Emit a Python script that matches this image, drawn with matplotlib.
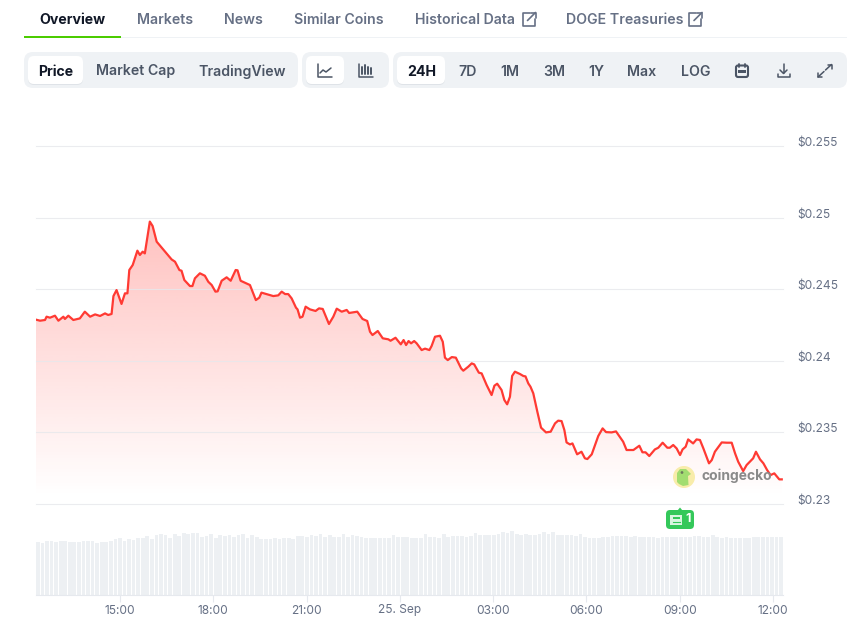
#!/usr/bin/env python3
# -*- coding: utf-8 -*-
import numpy as np
import matplotlib
matplotlib.use('Agg')
import matplotlib.pyplot as plt
from matplotlib.patches import FancyBboxPatch, Circle, Polygon, Rectangle
from matplotlib.transforms import ScaledTranslation

plt.rcParams['font.family'] = ['Inter', 'DejaVu Sans']

# hours since 00:00 on 24 Sep
times = [
    12.27, 12.43, 12.59, 12.64, 12.75, 12.91, 13.02, 13.18, 13.23, 13.34, 13.50, 13.71, 13.87, 14.04, 14.20, 14.36,
    14.52, 14.62, 14.73, 14.79, 14.89, 15.05, 15.16, 15.24, 15.30, 15.41, 15.56, 15.64, 15.73, 15.80, 15.96, 16.05,
    16.18, 16.39, 16.66, 16.77, 16.91, 16.98, 17.07, 17.25, 17.33, 17.41, 17.57, 17.73, 17.84, 17.95, 18.07, 18.14,
    18.27, 18.43, 18.56, 18.72, 18.78, 18.88, 19.18, 19.37, 19.48, 19.55, 19.82, 19.93, 20.09, 20.20, 20.31, 20.41,
    20.52, 20.66, 20.71, 20.79, 20.87, 20.97, 21.11, 21.29, 21.40, 21.52, 21.72, 21.86, 21.97, 22.13, 22.29, 22.37,
    22.63, 22.80, 22.95, 23.04, 23.12, 23.29, 23.45, 23.63, 23.70, 23.86, 24.03, 24.12, 24.20, 24.28, 24.36, 24.46,
    24.54, 24.70, 24.81, 24.95, 25.02, 25.13, 25.29, 25.38, 25.45, 25.54, 25.67, 25.80, 25.97, 26.04, 26.20, 26.31,
    26.39, 26.54, 26.63, 26.79, 26.95, 27.04, 27.13, 27.27, 27.36, 27.45, 27.54, 27.61, 27.70, 27.86, 27.97, 28.04,
    28.13, 28.20, 28.29, 28.42, 28.54, 28.70, 28.85, 28.99, 29.09, 29.20, 29.29, 29.36, 29.47, 29.55, 29.70, 29.84,
    29.95, 30.03, 30.17, 30.38, 30.52, 30.63, 30.81, 30.95, 31.18, 31.29, 31.51, 31.70, 31.80, 31.90, 32.02, 32.20,
    32.31, 32.45, 32.60, 32.68, 32.79, 32.90, 33.01, 33.09, 33.19, 33.27, 33.43, 33.54, 33.65, 33.76, 33.94, 34.03,
    34.13, 34.35, 34.51, 34.67, 34.78, 34.88, 35.04, 35.15, 35.36, 35.45, 35.58, 35.69, 35.81, 35.92, 36.04, 36.20,
    36.28,
]
prices = [
    .24289, .24280, .24285, .24308, .24301, .24315, .24280, .24308, .24292, .24315, .24285, .24296, .24343, .24308, .24324, .24313,
    .24331, .24320, .24327, .24452, .24494, .24397, .24471, .24471, .24634, .24669, .24769, .24739, .24762, .24750, .24972, .24941,
    .24832, .24778, .24708, .24692, .24634, .24629, .24564, .24522, .24522, .24576, .24611, .24594, .24552, .24529, .24483, .24485,
    .24559, .24583, .24559, .24634, .24632, .24559, .24529, .24424, .24441, .24476, .24459, .24452, .24457, .24483, .24466, .24466,
    .24436, .24371, .24359, .24301, .24308, .24378, .24359, .24348, .24366, .24362, .24257, .24308, .24364, .24343, .24355, .24334,
    .24343, .24292, .24278, .24203, .24180, .24208, .24157, .24150, .24140, .24161, .24115, .24145, .24110, .24138, .24122, .24138,
    .24122, .24075, .24085, .24075, .24103, .24168, .24175, .24133, .24022, .24005, .24026, .24022, .23947, .23931, .23959, .23982,
    .23975, .23917, .23912, .23831, .23761, .23826, .23840, .23796, .23726, .23696, .23749, .23894, .23924, .23908, .23894, .23891,
    .23842, .23819, .23773, .23645, .23533, .23500, .23505, .23563, .23582, .23579, .23516, .23430, .23416, .23423, .23347, .23365,
    .23319, .23314, .23347, .23475, .23528, .23502, .23500, .23507, .23435, .23377, .23377, .23407, .23361, .23361, .23335, .23381,
    .23393, .23428, .23393, .23393, .23412, .23388, .23342, .23381, .23400, .23451, .23423, .23451, .23447, .23388, .23284, .23307,
    .23365, .23430, .23428, .23428, .23353, .23295, .23230, .23272, .23319, .23365, .23312, .23284, .23237, .23202, .23214, .23172,
    .23172,
]
volumes = [
    52.5, 51.5, 53.5, 53.5, 52.5, 53.5, 53.5, 52.5, 52.5, 52.5, 53.5, 53.5, 53.5, 51.5, 52.5, 52.5, 53.5, 55.5, 56.5,
    53.5, 55.5, 54.5, 56.8, 56.2, 58.5, 55.5, 59.5, 60.2, 59.5, 56.5, 60.2, 58.5, 61.5, 60.5, 61.5, 61.5, 57.5, 58.5,
    60.2, 56.2, 59.5, 58.5, 59.5, 57.5, 59.5, 60.2, 56.5, 59.5, 57.5, 55.5, 55.2, 55.2, 56.2, 55.5, 56.2, 56.8, 55.5, 58.5,
    58.5, 57.5, 59.5, 58.5, 60.2, 57.5, 59.5, 57.5, 57.5, 60.5, 57.5, 59.5, 58.5, 57.5, 56.5, 56.5, 56.8, 56.2,
    56.5, 56.5, 59.5, 57.5, 57.5, 57.5, 56.5, 56.8, 56.2, 60.5, 57.5, 57.5, 56.2, 60.5, 57.5, 58.5, 58.5, 58.5,
    57.5, 58.5, 61.5, 59.5, 59.5, 59.5, 59.5, 60.5, 62.5, 61.5, 63.2, 60.5, 59.5, 60.2, 59.5, 59.5, 60.5, 62.5, 60.5, 62.5,
    59.5, 59.5, 59.5, 59.5, 58.5, 60.5, 57.5, 56.2, 56.2, 56.2, 57.5, 57.5, 58.5, 58.5,
    58.5, 58.5, 57.5, 58.5, 57.5, 57.2, 57.2, 57.2, 56.2, 57.2, 57.2, 57.2, 57.2, 57.2, 57.2, 57.8, 58.2, 58.2, 57.2, 57.2,
    59.5, 57.5, 56.2, 57.2, 56.2, 56.2, 56.8, 56.8, 56.2, 57.5, 57.5, 57.2, 57.2, 57.2, 57.2, 57.2,
]
price_ticks = [0.23, 0.235, 0.24, 0.245, 0.25, 0.255]
price_labels = ['$0.23', '$0.235', '$0.24', '$0.245', '$0.25', '$0.255']
time_ticks = [15, 18, 21, 24, 27, 30, 33, 36]
time_labels = ['15:00', '18:00', '21:00', '25. Sep', '03:00', '06:00', '09:00', '12:00']

W, H = 847, 624
DARK = '#111827'
SLATE = '#667085'
BTN = '#4b5565'
BAR_BG = '#eff2f5'
RED = '#ff3a33'
FS = 10.2


def px_axes(x0, y0, x1, y1):
    return fig.add_axes([x0 / W, 1 - y1 / H, (x1 - x0) / W, (y1 - y0) / H])


def pill(x0, y0, x1, y1, color, r=8, z=1, shadow=False):
    if shadow:
        ui.add_patch(FancyBboxPatch((x0, y0 + 1), x1 - x0, y1 - y0, boxstyle=f'round,pad=0,rounding_size={r}',
                                    fc='#dfe3e8', ec='none', zorder=z))
    ui.add_patch(FancyBboxPatch((x0, y0), x1 - x0, y1 - y0, boxstyle=f'round,pad=0,rounding_size={r}',
                                fc=color, ec='none', zorder=z))


def label(x, y, s, color=BTN, weight=600, size=FS):
    ui.text(x, y, s, color=color, fontsize=size, fontweight=weight, va='center', ha='left', zorder=5)


def stroke(xs, ys, color=BTN, lw=1.1):
    ui.plot(xs, ys, color=color, lw=lw, solid_capstyle='round', solid_joinstyle='round', zorder=5)


def link_icon(x, y):
    stroke([x + 7, x, x, x + 12, x + 12], [y, y, y + 13, y + 13, y + 6], SLATE, 1.2)
    stroke([x + 5, x + 13], [y + 8, y], SLATE, 1.2)
    stroke([x + 8, x + 13, x + 13], [y, y, y + 5], SLATE, 1.2)


fig = plt.figure(figsize=(W / 100, H / 100), dpi=100, facecolor='white')

# page chrome
ui = fig.add_axes([0, 0, 1, 1])
ui.set_xlim(0, W)
ui.set_ylim(H, 0)
ui.axis('off')

ui.add_patch(Rectangle((24, 37), W - 24, 1, fc='#eff2f5', ec='none'))
ui.add_patch(Rectangle((24, 36), 97, 2, fc='#4bcc00', ec='none', zorder=2))
label(39.5, 20, 'Overview', DARK, 700)
label(137, 20, 'Markets', SLATE)
label(224, 20, 'News', SLATE)
label(294, 20, 'Similar Coins', SLATE)
label(415, 20, 'Historical Data', SLATE)
link_icon(522.5, 12.5)
label(566, 20, 'DOGE Treasuries', SLATE)
link_icon(689, 12.5)

pill(24, 52, 298, 88, BAR_BG, 9)
pill(302, 52, 389, 88, BAR_BG, 9)
pill(393, 52, 847, 88, BAR_BG, 9)
pill(28, 56, 83, 84, 'white', 6, 2, True)
pill(306, 56, 344, 84, 'white', 6, 2, True)
pill(397, 56, 445, 84, 'white', 6, 2, True)

label(38, 71.5, 'Price', DARK, 700)
label(96.5, 71.5, 'Market Cap')
label(198.5, 71.5, 'TradingView')
label(407, 71.5, '24H', DARK, 700)
for bx, bs in [(458.5, '7D'), (500.5, '1M'), (543.5, '3M'), (588.5, '1Y'), (627.5, 'Max'), (680.5, 'LOG')]:
    label(bx, 71.5, bs)

# chart type icons
stroke([318, 318, 332], [64, 77, 77])
stroke([320, 323, 326, 331], [73, 70, 72, 68])
stroke([359, 359, 373], [64, 77, 77])
for bx, top_y, bot_y in [(362, 67, 74), (365, 65, 74), (368, 67, 74), (371, 68, 74)]:
    stroke([bx, bx], [top_y, bot_y], lw=1.4)

# calendar, download, fullscreen
ui.add_patch(FancyBboxPatch((736, 65.5), 12, 11.5, boxstyle='round,pad=0,rounding_size=2', fc='none', ec=BTN, lw=1.5, zorder=5))
ui.add_patch(Rectangle((738, 69.5), 8, 3, fc=BTN, ec='none', zorder=5))
stroke([739, 739], [64, 66.5], lw=1.3)
stroke([745, 745], [64, 66.5], lw=1.3)
stroke([783.5, 783.5], [64, 73])
stroke([780, 783.5, 787], [70, 73.5, 70])
stroke([777.5, 777.5, 789.5, 789.5], [74, 77, 77, 74])
stroke([818, 824], [77, 71.5])
stroke([818, 818, 822], [73, 77, 77])
stroke([825.5, 831.5], [70, 64.5])
stroke([827.5, 831.5, 831.5], [64.5, 64.5, 68.5])

# price chart
ax = px_axes(36, 146, 783, 504)
ax.patch.set_alpha(0)
for s in ax.spines.values():
    s.set_visible(False)

poly = ax.fill_between(times, prices, 0.23, color='none', lw=0)
alpha = np.linspace(0.32, 0.0, 256)
grad = np.zeros((256, 1, 4))
grad[:, 0, :3] = matplotlib.colors.to_rgb(RED)
grad[:, 0, 3] = alpha
im = ax.imshow(grad, extent=(12.3, 36.32, 0.2305, 0.2502), origin='upper', aspect='auto', zorder=1)
im.set_clip_path(poly.get_paths()[0], transform=ax.transData)

ax.set_xlim(12.3, 36.32)
ax.set_ylim(0.23, 0.255)
ax.set_xticks([])
ax.set_yticks(price_ticks)
ax.set_yticklabels(price_labels, va='bottom')
ax.yaxis.tick_right()
ax.tick_params(axis='y', length=0, pad=10.4, labelsize=8.6, labelcolor=SLATE)
for lab in ax.get_yticklabels():
    lab.set_transform(lab.get_transform() + ScaledTranslation(0, -3 / 100, fig.dpi_scale_trans))
ax.set_axisbelow(False)
ax.grid(True, axis='y', color='#e6e8ec', lw=0.8, alpha=0.8, zorder=2)
for gl in ax.get_ygridlines():
    gl.set_clip_on(False)
ax.plot(times, prices, color=RED, lw=1.6, solid_joinstyle='round', zorder=4)

# volume bars
vol = px_axes(36, 520, 783, 594.5)
vol.patch.set_alpha(0)
for s in ['top', 'left', 'right']:
    vol.spines[s].set_visible(False)
vol.spines['bottom'].set_color('#e6e9ee')
vol.spines['bottom'].set_linewidth(0.8)
bar_x = np.linspace(12.36, 36.26, len(volumes))
vol.bar(bar_x, volumes, width=(bar_x[1] - bar_x[0]) * 0.82, color='#edf0f3', lw=0)
vol.set_xlim(12.3, 36.32)
vol.set_ylim(0, 74.5)
vol.set_yticks([])
vol.set_xticks(time_ticks)
vol.set_xticklabels(time_labels)
vol.tick_params(axis='x', length=5, width=0.8, color='#e6e9ee', pad=2.2, labelsize=8.6, labelcolor=SLATE)

# watermark and news badge on top of the chart
top = fig.add_axes([0, 0, 1, 1])
top.set_xlim(0, W)
top.set_ylim(H, 0)
top.axis('off')
top.patch.set_alpha(0)
top.add_patch(Circle((684, 477), 11, fc='#f8ecaa', ec='none'))
top.add_patch(Polygon([(677, 482), (677, 473), (680, 469), (686, 469), (691, 474), (688, 476),
                       (688.5, 485), (683, 486), (679, 484)], fc='#a2dd70', ec='none'))
top.add_patch(Circle((682, 472.5), 1.4, fc='#6d7a5c', ec='none'))
top.text(702, 476, 'coingecko', color='#8a8a8a', fontsize=10, fontweight='bold', va='center', ha='left')

top.add_patch(FancyBboxPatch((666, 510), 28, 19, boxstyle='round,pad=0,rounding_size=4', fc='#34c85a', ec='none'))
top.add_patch(Polygon([(677.5, 510.5), (680, 507.5), (682.5, 510.5)], fc='#34c85a', ec='none'))
top.add_patch(Rectangle((670, 515), 12, 10, fc='#d9f5e0', ec='none'))
top.add_patch(Rectangle((673, 517), 7, 2, fc='#34c85a', ec='none'))
top.plot([673, 680], [521.5, 521.5], color='#34c85a', lw=0.8)
top.text(688, 519.5, '1', color='white', fontsize=9, fontweight='bold', va='center', ha='center')

plt.savefig('out.png', dpi=100)
plt.close()
